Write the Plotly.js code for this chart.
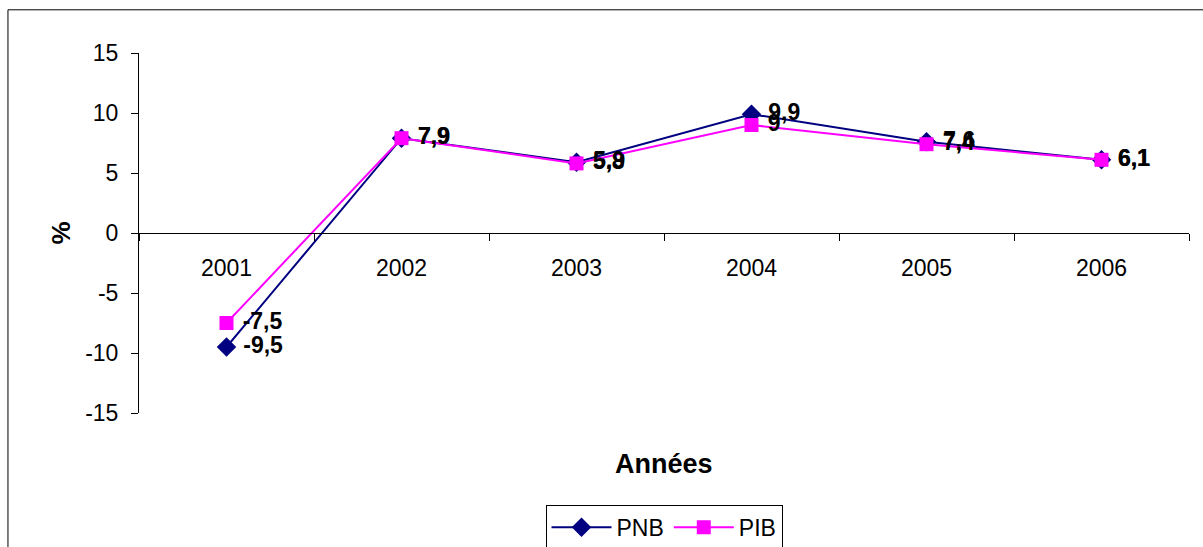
<!DOCTYPE html>
<html>
<head>
<meta charset="utf-8">
<script src="https://cdn.plot.ly/plotly-3.0.1.min.js"></script>
<style>html,body{margin:0;padding:0;background:#fff;}#chart{width:1203px;height:547px;}</style>
</head>
<body>
<div id="chart"></div>
<script>
var years = ['2001', '2002', '2003', '2004', '2005', '2006'];
var pnb = [-9.5, 7.9, 5.9, 9.9, 7.6, 6.1];
var pib = [-7.5, 7.9, 5.8, 9.0, 7.4, 6.1];
var yTicks = [-15, -10, -5, 0, 5, 10, 15];

function lab(v) { return '\u00a0' + String(v).replace('.', ','); }

var FONT = 'Liberation Sans, Arial, sans-serif';

var traces = [
  {
    x: years, y: pnb, name: 'PNB', type: 'scatter', mode: 'lines+markers+text',
    line: {color: '#000080', width: 2},
    marker: {symbol: 'diamond', size: 15, color: '#000080'},
    text: pnb.map(lab), textposition: 'middle right',
    textfont: {family: FONT, size: 23, color: '#000', weight: 'bold'},
    cliponaxis: false
  },
  {
    x: years, y: pib, name: 'PIB', type: 'scatter', mode: 'lines+markers+text',
    line: {color: '#FF00FF', width: 2},
    marker: {symbol: 'square', size: 14, color: '#FF00FF'},
    text: pib.map(lab), textposition: 'middle right',
    textfont: {family: FONT, size: 23, color: '#000', weight: 'bold'},
    cliponaxis: false
  }
];

var layout = {
  width: 1203, height: 547,
  margin: {l: 139, r: 14, t: 53, b: 134, autoexpand: false},
  paper_bgcolor: '#fff', plot_bgcolor: '#fff',
  font: {family: FONT, size: 23, color: '#000'},
  separators: ',.',
  showlegend: true,
  legend: {
    orientation: 'h', x: 0.5, xanchor: 'center', y: -0.255, yanchor: 'top',
    bordercolor: '#000', borderwidth: 1, bgcolor: '#fff',
    font: {size: 23}, itemwidth: 60, traceorder: 'normal'
  },
  xaxis: {
    type: 'category', anchor: 'free', position: 0.5, range: [-0.5, 5.5],
    showline: true, linecolor: '#000', linewidth: 1,
    ticks: 'outside', tickson: 'boundaries', ticklen: 7, tickcolor: '#000',
    ticklabelstandoff: 14,
    showgrid: false, zeroline: false,
    tickfont: {size: 23}
  },
  yaxis: {
    range: [-15, 15], tickvals: yTicks, ticktext: yTicks.map(String),
    showline: true, linecolor: '#000', linewidth: 1,
    ticks: 'outside', ticklen: 7, tickcolor: '#000',
    ticklabelstandoff: 8,
    showgrid: false, zeroline: false,
    tickfont: {size: 23},
    title: {text: '%', font: {size: 26, weight: 'bold'}, standoff: 7}
  },
  annotations: [
    {text: 'Années', xref: 'paper', yref: 'paper', x: 0.5, y: -0.142,
     xanchor: 'center', yanchor: 'middle', showarrow: false,
     font: {size: 27, weight: 'bold'}}
  ],
  shapes: [
    {type: 'rect', xref: 'paper', yref: 'paper', x0: -0.1248, x1: 1.02, y0: -0.5, y1: 1.120,
     line: {color: '#000', width: 1}, fillcolor: 'rgba(0,0,0,0)', layer: 'below'}
  ]
};

Plotly.newPlot('chart', traces, layout, {displayModeBar: false, staticPlot: true});
</script>
</body>
</html>
